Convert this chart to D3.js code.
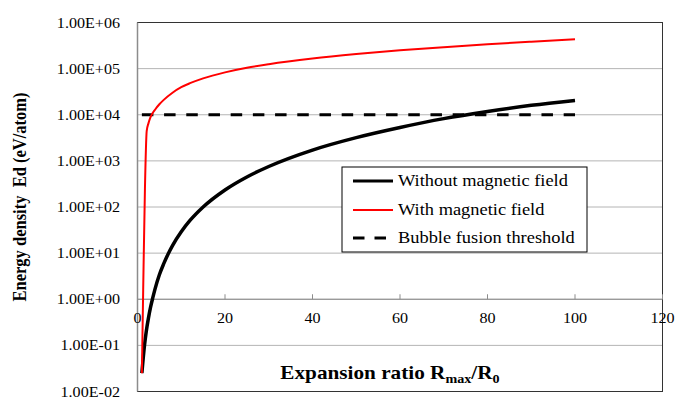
<!DOCTYPE html>
<html>
<head>
<meta charset="utf-8">
<script src="https://cdn.jsdelivr.net/npm/d3@7"></script>
<style>
  body { margin: 0; background: #fff; }
  svg { display: block; font-family: "Liberation Serif", "Times New Roman", serif; }
</style>
</head>
<body>
<svg id="chart" width="678" height="398"></svg>
<script>
// expansion ratio Rmax/R0 and energy density Ed (eV/atom)
var rNoField  = [1, 1.6, 2, 2.5, 3, 3.5, 4, 5, 6, 7, 8, 10, 12, 15, 20, 25, 30, 40, 50, 60, 70, 80, 90, 100];
var edNoField = [0.025, 0.1, 0.2, 0.39, 0.68, 1.08, 1.66, 3.4, 5.9, 9.6, 14.6, 29, 51, 100, 234, 448, 756, 1715, 3190, 5290, 8230, 11780, 16040, 20500];

var rField  = [1, 1.3, 1.7, 2.1, 2.5, 3, 4, 5, 6, 8, 10, 12, 15, 20, 25, 30, 40, 50, 60, 70, 80, 90, 100];
var edField = [0.025, 1.6, 250, 4400, 6500, 9000, 12850, 16870, 21000, 30000, 39500, 48300, 61500, 83000, 104500, 125000, 166000, 207000, 249000, 291000, 336000, 383000, 435000];

var rThreshold  = [1, 100];
var edThreshold = [1e4, 1e4];

var xTicks = [0, 20, 40, 60, 80, 100, 120];
var yTicks = [1e-2, 1e-1, 1e0, 1e1, 1e2, 1e3, 1e4, 1e5, 1e6];

var seriesNames = ["Without magnetic field", "With magnetic field", "Bubble fusion threshold"];

var svg = d3.select("#chart");
var plotL = 137.5, plotR = 662.5, plotT = 22.5, plotB = 391.5;
var stretch = 1.15;   // text in the picture is a little wider than tall

var x = d3.scaleLinear().domain([0, 120]).range([plotL, plotR]);
var y = d3.scaleLog().domain([1e-2, 1e6]).range([plotB, plotT]);

function sci(d) {
  var e = Math.round(Math.log10(d));
  return "1.00E" + (e < 0 ? "-" : "+") + String(Math.abs(e)).padStart(2, "0");
}

// grid lines
svg.append("g").selectAll("line")
  .data(yTicks.filter(function(d){ return d > 1e-2 && d < 1e6; }))
  .enter().append("line")
  .attr("x1", plotL).attr("x2", plotR)
  .attr("y1", function(d){ return y(d); }).attr("y2", function(d){ return y(d); })
  .attr("stroke", "#b4b4b4").attr("stroke-width", 1);

// plot frame
svg.append("rect")
  .attr("x", plotL).attr("y", plotT)
  .attr("width", plotR - plotL).attr("height", plotB - plotT)
  .attr("fill", "none").attr("stroke", "#333").attr("stroke-width", 1);

// y axis line
svg.append("line")
  .attr("x1", plotL).attr("x2", plotL).attr("y1", plotT).attr("y2", plotB)
  .attr("stroke", "#8c8c8c").attr("stroke-width", 1.5);

// x axis at Ed = 1, ticks pointing up
var xAxis = svg.append("g").attr("transform", "translate(0," + y(1) + ")");
xAxis.append("line").attr("x1", plotL).attr("x2", plotR).attr("stroke", "#8c8c8c");
xAxis.selectAll("line.tick").data(xTicks).enter().append("line").attr("class", "tick")
  .attr("x1", function(d){ return x(d); }).attr("x2", function(d){ return x(d); })
  .attr("y1", 0).attr("y2", -5).attr("stroke", "#8c8c8c");
xAxis.selectAll("text").data(xTicks).enter().append("text")
  .attr("transform", function(d){ return "translate(" + x(d) + ",24) scale(" + stretch + ",1)"; })
  .attr("text-anchor", "middle").attr("font-size", 14).attr("fill", "#000")
  .text(function(d){ return d; });

// y tick labels
svg.append("g").selectAll("text").data(yTicks).enter().append("text")
  .attr("transform", function(d){ return "translate(120," + (y(d) + 5) + ") scale(" + stretch + ",1)"; })
  .attr("text-anchor", "end").attr("font-size", 14).attr("fill", "#000")
  .text(sci);

// series
var line = d3.line()
  .x(function(d){ return x(d[0]); })
  .y(function(d){ return y(d[1]); });

svg.append("path")
  .datum(d3.zip(rThreshold, edThreshold))
  .attr("d", line.curve(d3.curveLinear))
  .attr("fill", "none").attr("stroke", "#000").attr("stroke-width", 3)
  .attr("stroke-dasharray", "11.5,10.7");

line.curve(d3.curveMonotoneX);

svg.append("path")
  .datum(d3.zip(rNoField, edNoField))
  .attr("d", line)
  .attr("fill", "none").attr("stroke", "#000").attr("stroke-width", 3.5);

svg.append("path")
  .datum(d3.zip(rField, edField))
  .attr("d", line)
  .attr("fill", "none").attr("stroke", "#ff0000").attr("stroke-width", 2);

// legend
var legend = svg.append("g");
legend.append("rect")
  .attr("x", 342).attr("y", 167).attr("width", 245).attr("height", 85)
  .attr("fill", "#fff").attr("stroke", "#000").attr("stroke-width", 1);
var legendStyle = [
  {stroke: "#000", width: 3, dash: null},
  {stroke: "#ff0000", width: 2, dash: null},
  {stroke: "#000", width: 3, dash: "11.5,10"}
];
var rowY = [181, 210, 238];
seriesNames.forEach(function(name, i) {
  legend.append("line")
    .attr("x1", 353).attr("x2", 393).attr("y1", rowY[i]).attr("y2", rowY[i])
    .attr("stroke", legendStyle[i].stroke).attr("stroke-width", legendStyle[i].width)
    .attr("stroke-dasharray", legendStyle[i].dash);
  legend.append("text")
    .attr("transform", "translate(398," + (rowY[i] + 5) + ") scale(" + stretch + ",1)")
    .attr("font-size", 16).attr("fill", "#000")
    .text(name);
});

// axis titles
var xTitle = svg.append("text")
  .attr("transform", "translate(390,379) scale(1.18,1)")
  .attr("text-anchor", "middle").attr("font-size", 18).attr("font-weight", "bold");
xTitle.append("tspan").text("Expansion ratio R");
xTitle.append("tspan").attr("font-size", 12).attr("dy", 4).text("max");
xTitle.append("tspan").attr("dy", -4).text("/R");
xTitle.append("tspan").attr("font-size", 12).attr("dy", 4).text("0");

svg.append("text")
  .attr("transform", "translate(26,197) scale(1.2,1) rotate(-90)")
  .attr("text-anchor", "middle").attr("font-size", 16.5).attr("font-weight", "bold")
  .style("white-space", "pre")
  .text("Energy density  Ed (eV/atom)");
</script>
</body>
</html>
